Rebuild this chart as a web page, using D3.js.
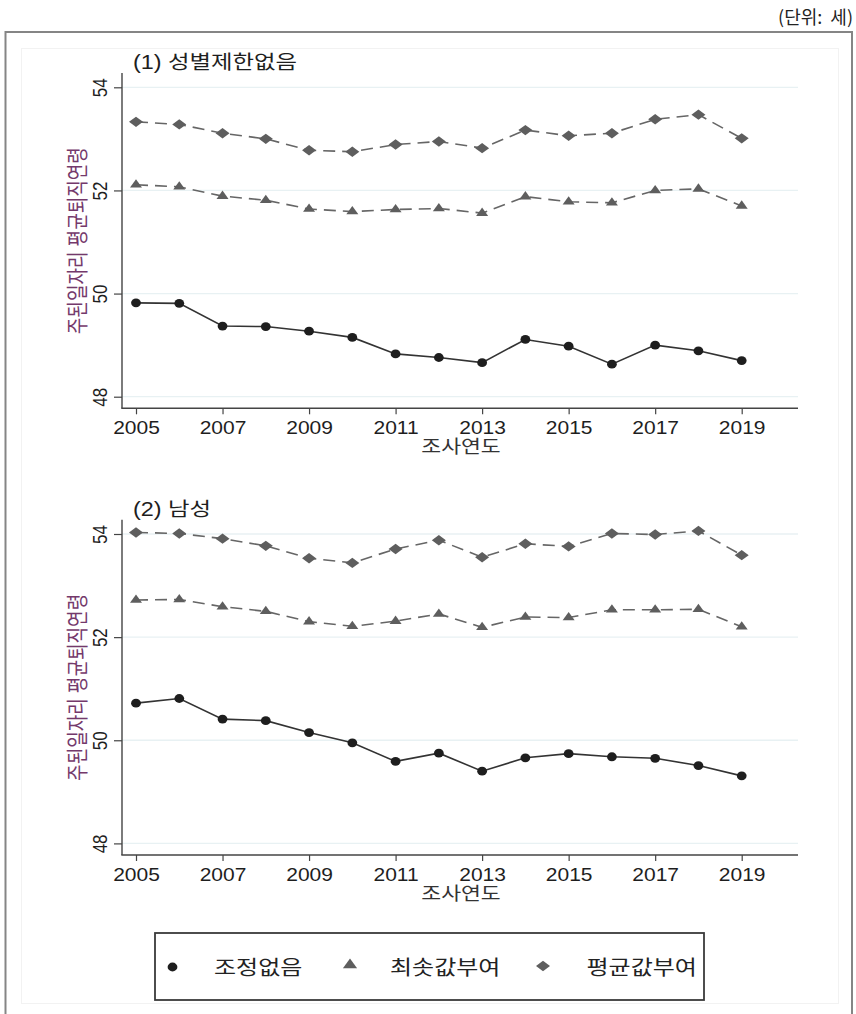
<!DOCTYPE html>
<html>
<head>
<meta charset="utf-8">
<script src="https://cdn.jsdelivr.net/npm/d3@7"></script>
<style>
  html, body { margin: 0; padding: 0; background: #fff; }
  svg { display: block; }
  text { font-family: "Liberation Sans", Arial, "Noto Sans CJK KR", sans-serif; }
  .kr { font-family: "Liberation Sans", "Noto Sans CJK KR", sans-serif; }
</style>
</head>
<body>
<svg id="chart" width="856" height="1014"></svg>
<script>
// Survey years
const years = [2005, 2006, 2007, 2008, 2009, 2010, 2011, 2012, 2013, 2014, 2015, 2016, 2017, 2018, 2019];

// (1) All workers
const allNoAdj   = [49.82, 49.81, 49.37, 49.36, 49.27, 49.15, 48.83, 48.76, 48.66, 49.11, 48.98, 48.63, 49.00, 48.89, 48.70];
const allMinImp  = [52.11, 52.07, 51.89, 51.81, 51.64, 51.59, 51.63, 51.65, 51.56, 51.88, 51.78, 51.76, 52.00, 52.03, 51.70];
const allMeanImp = [53.33, 53.28, 53.11, 53.00, 52.78, 52.75, 52.89, 52.95, 52.82, 53.17, 53.06, 53.11, 53.38, 53.47, 53.01];

// (2) Men
const menNoAdj   = [50.72, 50.81, 50.41, 50.38, 50.15, 49.95, 49.59, 49.75, 49.40, 49.66, 49.74, 49.68, 49.65, 49.51, 49.31];
const menMinImp  = [52.72, 52.73, 52.59, 52.50, 52.30, 52.21, 52.31, 52.45, 52.19, 52.39, 52.38, 52.53, 52.53, 52.54, 52.20];
const menMeanImp = [54.03, 54.01, 53.91, 53.77, 53.53, 53.44, 53.71, 53.88, 53.55, 53.81, 53.76, 54.01, 53.99, 54.06, 53.59];

const yTicks = [48, 50, 52, 54];
const xTicks = [2005, 2007, 2009, 2011, 2013, 2015, 2017, 2019];

const panelTitles = ["(1) 성별제한없음", "(2) 남성"];
const yTitle = "주된일자리 평균퇴직연령";
const xTitle = "조사연도";
const legendLabels = ["조정없음", "최솟값부여", "평균값부여"];
const unitNote = "(단위:\u00a0\u00a0세)";

const SX = 1.2;              // horizontal stretch of chart lettering
const INK = "#1e1e1e";
const GREY = "#5e5e5e";

const svg = d3.select("#chart");

// page frame
svg.append("path")
  .attr("d", "M5.5,1014 V32 H852 V1014")
  .attr("fill", "none").attr("stroke", "#858585").attr("stroke-width", 2);
svg.append("rect")
  .attr("x", 21.5).attr("y", 48.5).attr("width", 817).attr("height", 955)
  .attr("fill", "none").attr("stroke", "#f2f2f2").attr("stroke-width", 1);

svg.append("text")
  .attr("x", 853).attr("y", 24)
  .attr("text-anchor", "end")
  .attr("font-size", 18)
  .attr("fill", "#222")
  .style("font-family", "'Noto Sans CJK KR', sans-serif")
  .text(unitNote);

function stretchedText(g, x, y, str, size, anchor, rotate, fill) {
  return g.append("text")
    .attr("transform", `translate(${x},${y}) scale(${SX},1)` + (rotate ? ` rotate(${rotate})` : ""))
    .attr("text-anchor", anchor)
    .attr("font-size", size)
    .attr("fill", fill || INK)
    .text(str);
}

const panels = [
  { top: 0,     title: panelTitles[0], series: [allNoAdj, allMinImp, allMeanImp] },
  { top: 446.7, title: panelTitles[1], series: [menNoAdj, menMinImp, menMeanImp] }
];

const plotLeft = 122, plotRight = 798;

const x = d3.scaleLinear().domain([2005, 2019]).range([136, 741.7]);

// markers are drawn slightly wider than tall
const diamond = d3.symbol().type(d3.symbolSquare).size(54)();
const triangle = d3.symbol().type(d3.symbolTriangle).size(40)();
const legendTriangle = d3.symbol().type(d3.symbolTriangle).size(56)();
const diamondTf = "scale(1.35,1) rotate(45)";
const triangleTf = "scale(1.25,1)";

panels.forEach(p => {
  const g = svg.append("g").attr("transform", `translate(0,${p.top})`);
  const y = d3.scaleLinear().domain([48, 54]).range([396.7, 87.3]);
  const axisTop = 73, axisBottom = 408.3;

  // horizontal grid
  g.append("g").selectAll("line").data(yTicks).join("line")
    .attr("x1", plotLeft).attr("x2", plotRight)
    .attr("y1", d => y(d)).attr("y2", d => y(d))
    .attr("stroke", "#e8f1f3").attr("stroke-width", 1.3);

  // y axis
  const ya = g.append("g").attr("transform", `translate(${plotLeft},0)`)
    .call(d3.axisLeft(y).tickValues(yTicks).tickSize(8).tickSizeOuter(0).tickFormat(d3.format("d")));
  ya.select(".domain").remove();
  ya.selectAll(".tick line").attr("stroke", "#444").attr("stroke-width", 1.2);
  ya.selectAll(".tick text")
    .attr("x", null).attr("dy", null).attr("y", null)
    .attr("transform", `translate(-15.5,0) scale(${SX},1) rotate(-90)`)
    .attr("text-anchor", "middle")
    .attr("font-size", 17)
    .attr("fill", INK)
    .style("font-family", "'Liberation Sans', Arial, sans-serif");
  g.append("line")
    .attr("x1", plotLeft).attr("x2", plotLeft)
    .attr("y1", axisTop).attr("y2", axisBottom)
    .attr("stroke", "#444").attr("stroke-width", 1.4);

  // x axis
  const xa = g.append("g").attr("transform", `translate(0,${axisBottom})`)
    .call(d3.axisBottom(x).tickValues(xTicks).tickSize(6).tickSizeOuter(0).tickFormat(d3.format("d")));
  xa.select(".domain").remove();
  xa.selectAll(".tick line").attr("stroke", "#444").attr("stroke-width", 1.2);
  xa.selectAll(".tick text")
    .attr("y", 26).attr("dy", null)
    .attr("transform", `scale(${SX},1)`)
    .attr("font-size", 17.5)
    .attr("fill", INK)
    .style("font-family", "'Liberation Sans', Arial, sans-serif");
  g.append("line")
    .attr("x1", plotLeft - 0.7).attr("x2", plotRight)
    .attr("y1", axisBottom).attr("y2", axisBottom)
    .attr("stroke", "#444").attr("stroke-width", 1.4);

  // titles
  stretchedText(g, 133, 69, p.title, 19.5, "start", 0, INK).attr("class", "kr");
  stretchedText(g, 461, 453, xTitle, 18, "middle", 0, "#333").attr("class", "kr");
  stretchedText(g, 85, (axisTop + axisBottom) / 2, yTitle, 18, "middle", -90, "#74396b").attr("class", "kr");

  const line = d3.line().x((d, i) => x(years[i])).y(d => y(d));
  const [s0, s1, s2] = p.series;

  // imputed series: dashed grey
  [s2, s1].forEach(s => {
    g.append("path").datum(s)
      .attr("d", line)
      .attr("fill", "none")
      .attr("stroke", "#666")
      .attr("stroke-width", 1.6)
      .attr("stroke-dasharray", "12,7");
  });
  // unadjusted: solid
  g.append("path").datum(s0)
    .attr("d", line)
    .attr("fill", "none")
    .attr("stroke", "#333")
    .attr("stroke-width", 1.6);

  g.append("g").selectAll("path").data(s2).join("path")
    .attr("d", diamond)
    .attr("transform", (d, i) => `translate(${x(years[i])},${y(d)}) ${diamondTf}`)
    .attr("fill", GREY);
  g.append("g").selectAll("path").data(s1).join("path")
    .attr("d", triangle)
    .attr("transform", (d, i) => `translate(${x(years[i])},${y(d)}) ${triangleTf}`)
    .attr("fill", GREY);
  g.append("g").selectAll("ellipse").data(s0).join("ellipse")
    .attr("cx", (d, i) => x(years[i])).attr("cy", d => y(d))
    .attr("rx", 4.9).attr("ry", 4.4)
    .attr("fill", INK);
});

// legend
const lg = svg.append("g");
lg.append("rect")
  .attr("x", 155).attr("y", 933).attr("width", 549).attr("height", 67)
  .attr("fill", "#fff").attr("stroke", "#3a3a3a").attr("stroke-width", 1.8);
const legendMarks = [
  { mx: 172.5, tx: 214 },
  { mx: 350,   tx: 390 },
  { mx: 543,   tx: 586.5 }
];
lg.append("ellipse").attr("cx", legendMarks[0].mx).attr("cy", 967).attr("rx", 4.9).attr("ry", 4.4).attr("fill", INK);
lg.append("path").attr("d", legendTriangle).attr("transform", `translate(${legendMarks[1].mx},965) ${triangleTf}`).attr("fill", GREY);
lg.append("path").attr("d", diamond).attr("transform", `translate(${legendMarks[2].mx},966) ${diamondTf}`).attr("fill", GREY);
legendLabels.forEach((t, i) => {
  stretchedText(lg, legendMarks[i].tx, 975, t, 20, "start", 0, "#222").attr("class", "kr");
});
</script>
</body>
</html>
